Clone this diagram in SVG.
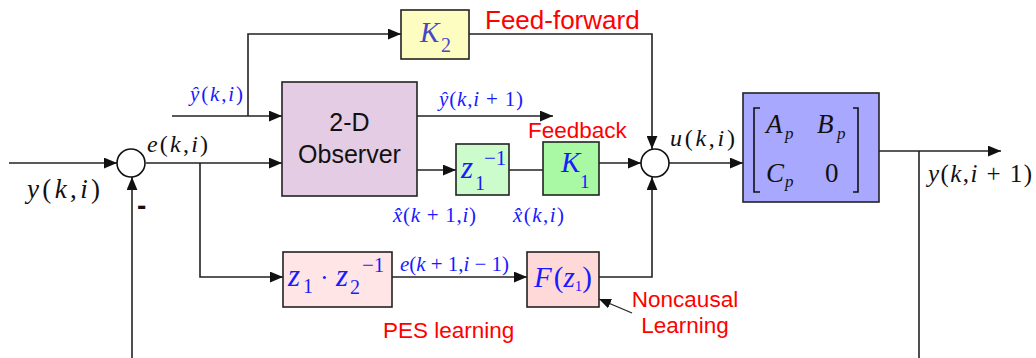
<svg xmlns="http://www.w3.org/2000/svg" width="1036" height="358" viewBox="0 0 1036 358">
  <defs>
    <marker id="arrow" viewBox="0 0 12 10" refX="12" refY="5" markerWidth="13" markerHeight="11" markerUnits="userSpaceOnUse" orient="auto">
      <path d="M0,0 L12,5 L0,10 z" fill="#111"/>
    </marker>
    <marker id="arrow-sm" viewBox="0 0 12 10" refX="12" refY="5" markerWidth="12" markerHeight="10" markerUnits="userSpaceOnUse" orient="auto">
      <path d="M0,0 L12,5 L0,10 z" fill="#111"/>
    </marker>
    <style>
      .wire { fill: none; stroke: #222; stroke-width: 1.6; }
      .arr { marker-end: url(#arrow); }
      .box { stroke: #222; stroke-width: 1.6; }
      .sum { fill: #fff; stroke: #111; stroke-width: 1.6; }
      .math { font-family: "Liberation Serif", "Times New Roman", serif; }
      .it { font-style: italic; }
      .blue { fill: #1a1aff; }
      .black { fill: #111; }
      .red { font-family: "Liberation Sans", Arial, sans-serif; fill: #ff0000; }
      .sans { font-family: "Liberation Sans", Arial, sans-serif; fill: #111; }
    </style>
  </defs>

  <!-- signal wiring -->
  <g id="connectors">
    <path class="wire arr" d="M9,163 H117"/>
    <path class="wire arr" d="M146,163 H282"/>
    <path class="wire arr" d="M200,163 V277 H283"/>
    <path class="wire arr" d="M172,116 H282"/>
    <path class="wire arr" d="M248,116 V34 H401"/>
    <path class="wire arr" d="M469,34 H652 V149"/>
    <path class="wire arr" d="M417,116 H553"/>
    <path class="wire arr" d="M417,170 H456"/>
    <path class="wire" d="M509,170 H543"/>
    <path class="wire arr" d="M599,163 H641"/>
    <path class="wire arr" d="M599,277 H652 V177"/>
    <path class="wire arr" d="M669,163 H743"/>
    <path class="wire arr" d="M879,151 H1001"/>
    <path class="wire" d="M919,151 V358"/>
    <path class="wire arr" d="M132,358 V177"/>
    <path class="wire arr" d="M392,277 H527"/>
    <path class="wire" d="M632,313 L599,299" style="stroke-width:1.3; marker-end:url(#arrow-sm)"/>
  </g>

  <!-- summing junctions -->
  <g id="sum1"><circle class="sum" cx="131" cy="163" r="14"/></g>
  <g id="sum2"><circle class="sum" cx="655" cy="163" r="14"/></g>

  <!-- 2-D observer -->
  <g id="observer">
    <rect class="box" x="282" y="82" width="135" height="114" fill="#e4cce4"/>
    <text class="sans" x="349.5" y="131" font-size="25" text-anchor="middle">2-D</text>
    <text class="sans" x="349.5" y="163" font-size="25" text-anchor="middle">Observer</text>
  </g>

  <!-- feed-forward gain -->
  <g id="K2">
    <rect class="box" x="401" y="10" width="68" height="49" fill="#fdfdc2"/>
    <text class="math it" x="420" y="42" font-size="29" fill="#4646c8">K</text>
    <text class="math" x="441" y="52" font-size="20" fill="#4646c8">2</text>
  </g>

  <!-- unit delay -->
  <g id="delay">
    <rect class="box" x="456" y="144" width="53" height="51" fill="#ccfccc"/>
    <text class="math it blue" x="461" y="178" font-size="31">z</text>
    <text class="math blue" x="475" y="190" font-size="20">1</text>
    <text class="math blue" x="484" y="165" font-size="21">−1</text>
  </g>

  <!-- feedback gain -->
  <g id="K1">
    <rect class="box" x="543" y="142" width="56" height="53" fill="#a8f8a4"/>
    <text class="math it blue" x="561" y="172" font-size="29">K</text>
    <text class="math blue" x="580" y="188" font-size="19">1</text>
  </g>

  <!-- plant -->
  <g id="plant">
    <rect class="box" x="743" y="93" width="136" height="109" fill="#a8a8ff"/>
    <path d="M760,108 H754 V192 H760 M853,108 H858 V192 H853" fill="none" stroke="#111" stroke-width="1.6"/>
    <text class="math it black" x="766" y="133" font-size="27">A</text>
    <text class="math it black" x="785" y="139" font-size="17">p</text>
    <text class="math it black" x="817" y="133" font-size="27">B</text>
    <text class="math it black" x="837" y="139" font-size="17">p</text>
    <text class="math it black" x="766" y="182" font-size="27">C</text>
    <text class="math it black" x="785" y="187" font-size="17">p</text>
    <text class="math black" x="825" y="182" font-size="27">0</text>
  </g>

  <!-- PES learning filter -->
  <g id="pes">
    <rect class="box" x="283" y="252" width="109" height="55" fill="#ffe5e5"/>
    <text class="math it blue" x="288" y="286" font-size="31">z</text>
    <text class="math blue" x="303" y="293" font-size="20">1</text>
    <text class="math blue" x="320" y="286" font-size="26">·</text>
    <text class="math it blue" x="336" y="286" font-size="31">z</text>
    <text class="math blue" x="350" y="294" font-size="20">2</text>
    <text class="math blue" x="362" y="272" font-size="21">−1</text>
  </g>

  <!-- noncausal filter -->
  <g id="F">
    <rect class="box" x="527" y="252" width="72" height="55" fill="#ffd8d8"/>
    <text class="math blue" x="534" y="287" font-size="29"><tspan class="it">F</tspan><tspan dx="2">(</tspan><tspan class="it">z</tspan><tspan font-size="15" dy="4">1</tspan><tspan dy="-4">)</tspan></text>
  </g>

  <!-- signal labels (hats are combining circumflexes) -->
  <g id="labels">
    <text class="math black" x="27" y="198" font-size="27" textLength="73" lengthAdjust="spacing"><tspan class="it">y</tspan>(<tspan class="it">k</tspan>,<tspan class="it">i</tspan>)</text>
    <text class="math black" x="147" y="152" font-size="24" textLength="61" lengthAdjust="spacing"><tspan class="it">e</tspan>(<tspan class="it">k</tspan>,<tspan class="it">i</tspan>)</text>
    <text class="sans" x="137" y="215" font-size="28" font-weight="bold">-</text>

    <text class="math blue" x="190" y="101" font-size="21" textLength="53" lengthAdjust="spacing"><tspan class="it">ŷ</tspan>(<tspan class="it">k</tspan>,<tspan class="it">i</tspan>)</text>
    <text class="math blue" x="439" y="106" font-size="21" textLength="84" lengthAdjust="spacing"><tspan class="it">ŷ</tspan>(<tspan class="it">k</tspan>,<tspan class="it">i</tspan> + 1)</text>
    <text class="math blue" x="393" y="222" font-size="21" textLength="83" lengthAdjust="spacing"><tspan class="it">x̂</tspan>(<tspan class="it">k</tspan> + 1,<tspan class="it">i</tspan>)</text>
    <text class="math blue" x="513" y="222" font-size="21" textLength="51" lengthAdjust="spacing"><tspan class="it">x̂</tspan>(<tspan class="it">k</tspan>,<tspan class="it">i</tspan>)</text>

    <text class="math blue" x="400" y="271" font-size="21" textLength="109" lengthAdjust="spacing"><tspan class="it">e</tspan>(<tspan class="it">k</tspan> + 1,<tspan class="it">i</tspan> − 1)</text>

    <text class="math black" x="670" y="146" font-size="24" textLength="65" lengthAdjust="spacing"><tspan class="it">u</tspan>(<tspan class="it">k</tspan>,<tspan class="it">i</tspan>)</text>
    <text class="math black" x="928" y="182" font-size="25" textLength="104" lengthAdjust="spacing"><tspan class="it">y</tspan>(<tspan class="it">k</tspan>,<tspan class="it">i</tspan> + 1)</text>

    <text class="red" x="485" y="29" font-size="26">Feed-forward</text>
    <text class="red" x="528" y="138" font-size="22.5">Feedback</text>
    <text class="red" x="383" y="338" font-size="22.5">PES learning</text>
    <text class="red" x="685" y="307" font-size="22.5" text-anchor="middle">Noncausal</text>
    <text class="red" x="685" y="333" font-size="22.5" text-anchor="middle">Learning</text>
  </g>
</svg>
